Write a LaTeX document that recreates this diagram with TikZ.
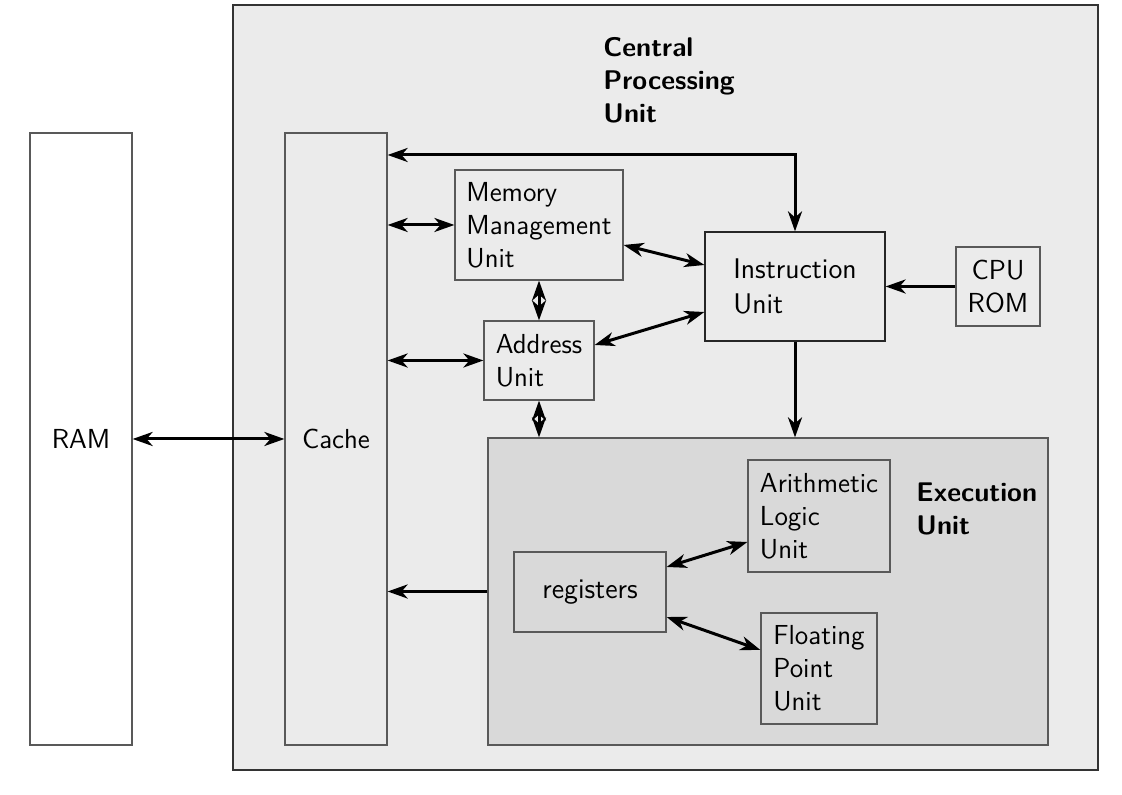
\documentclass[tikz,border=0pt]{standalone}
\usepackage{tikz}
\usetikzlibrary{arrows.meta}

\begin{document}
\begin{tikzpicture}[x=.5pt, y=.5pt, >={Stealth[length=10pt,width=7pt,inset=3pt]},
    box/.style={draw=black!65, line width=.6pt, align=left, inner sep=0pt,
        font=\sffamily\fontsize{13.75}{16.5}\selectfont},
    big/.style={font=\sffamily\fontsize{14.2}{17.5}\selectfont},
    title/.style={anchor=north west, inner sep=0pt, align=left,
        font=\sffamily\bfseries\fontsize{13.5}{16.5}\selectfont},
    link/.style={line width=1.5pt, <->}]
\useasboundingbox (0,0) rectangle (1122,795);

% outer units
\node (cpu) at (665.5,407.5)[box, fill=black!8, draw=black!80, minimum width=432.5pt, minimum height=382.5pt]{};
\node (exec) at (768,203.5)[box, fill=black!15, minimum width=280pt, minimum height=153.5pt]{};
\node (cputitle) at (603,758)[title]{Central\\Processing\\Unit};
\node (exectitle) at (916,313)[title]{Execution\\Unit};

\node (ram) at (81,356)[box, fill=white, minimum width=51pt, minimum height=306pt]{RAM};
\node (cache) at (336,356)[box, minimum width=51pt, minimum height=306pt]{Cache};
\node (mmu) at (539,570)[box, minimum width=84pt, minimum height=55pt]{Memory\\Management\\Unit};
\node (addr) at (539,434.5)[box, minimum width=55pt, minimum height=39.5pt]{Address\\Unit};
\node (instr) at (795,508.5)[box, big, draw=black!85, minimum width=90pt, minimum height=54.5pt]{Instruction\\Unit};
\node (rom) at (998,508.5)[box, align=center, minimum width=42pt, minimum height=39.5pt]{CPU\\ROM};
\node (alu) at (819,279)[box, minimum width=71pt, minimum height=56pt]{Arithmetic\\Logic\\Unit};
\node (reg) at (590,203)[box, big, minimum width=76pt, minimum height=40pt]{registers};
\node (fpu) at (819,126.5)[box, minimum width=58pt, minimum height=55.5pt]{Floating\\Point\\Unit};

\coordinate (bus) at (0,640);

\draw[link] (ram) -- (cache);
\foreach \a in {mmu, addr}
{
    \draw[link] (\a.west) -- (\a.west -| cache.east);
}
\draw[link] (instr.north) |- (cache.east |- bus);
\draw[link] (mmu.south) -- (addr.north);
\draw[link] (addr.south) -- (addr.south |- exec.north);
\draw[link] ([yshift=-10pt]mmu.east) -- ([yshift=10.75pt]instr.west);
\draw[link] ([yshift=7.75pt]addr.east) -- ([yshift=-12.75pt]instr.west);
\draw[link] ([yshift=12.5pt]reg.east) -- ([yshift=-13pt]alu.west);
\draw[link] ([yshift=-12.5pt]reg.east) -- ([yshift=9.25pt]fpu.west);

\draw[line width=1.5pt, ->] (instr.south) -- (instr.south |- exec.north);
\draw[line width=1.5pt, ->] (rom) -- (instr);
\draw[line width=1.5pt, ->] (exec.west) -- (exec.west -| cache.east);
\end{tikzpicture}
\end{document}
